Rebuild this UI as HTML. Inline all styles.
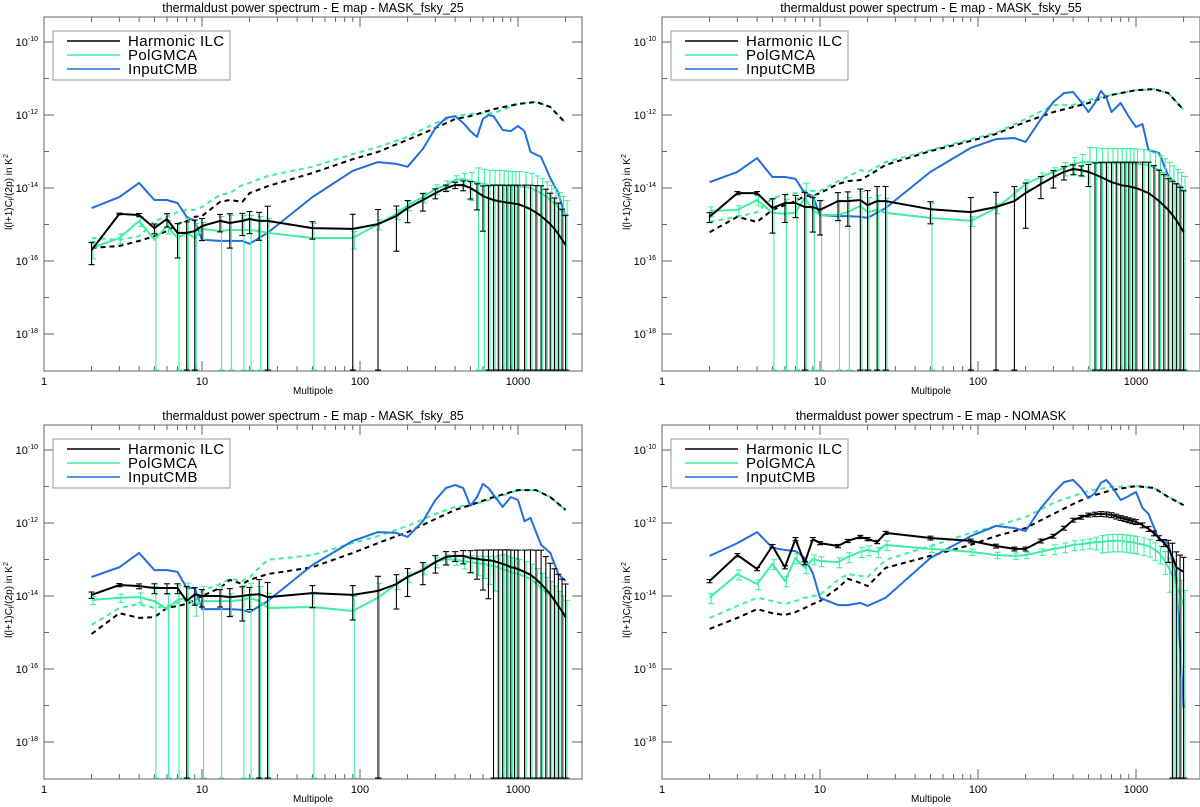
<!DOCTYPE html>
<html><head><meta charset="utf-8"><style>
html,body{margin:0;padding:0;background:#fff;}
svg{display:block;font-family:"Liberation Sans",sans-serif;}
</style></head><body>
<svg id="chart" width="1200" height="807" viewBox="0 0 1200 807" xmlns="http://www.w3.org/2000/svg"></svg>
<script>
// shared multipole grids
const ellBins = [2,3,4,5,6,7,8,9,10,13,15,18,20,23,26,50,90,130,170,200,250,300,350,400,450,500,550,600,650,700,750,800,850,900,950,1000,1100,1200,1300,1400,1500,1600,1700,1800,1900,2000];
const ellDashed = [2,3,4,5,6,7,8,9,10,13,15,18,20,26,50,90,130,200,300,400,500,700,1000,1300,1600,2000];
const ellInput = [2,3,4,5,6,7,8,9,10,13,15,18,20,26,50,90,130,170,200,250,300,350,400,450,500,550,600,650,700,800,900,1000,1100,1200,1400,1600,1800,2000];
const xTickLabels = ["1","10","100","1000"];
const yTickExps = [-10,-12,-14,-16,-18];
const panelTitles = ["thermaldust power spectrum - E map - MASK_fsky_25","thermaldust power spectrum - E map - MASK_fsky_55","thermaldust power spectrum - E map - MASK_fsky_85","thermaldust power spectrum - E map - NOMASK"];

// values are log10(l(l+1)Cl/2pi); errors are log10 of the 1-sigma (linear)
// panel 1 MASK_fsky_25
const ilc1 = [-15.70,-14.71,-14.74,-15.10,-14.85,-15.23,-15.23,-15.18,-15.04,-14.90,-14.96,-14.90,-14.85,-14.90,-14.90,-15.10,-15.12,-14.99,-14.77,-14.55,-14.33,-14.14,-14.00,-13.92,-13.92,-14.00,-14.11,-14.22,-14.28,-14.33,-14.36,-14.38,-14.40,-14.41,-14.43,-14.44,-14.51,-14.58,-14.67,-14.77,-14.88,-14.99,-15.12,-15.26,-15.41,-15.56];
const ilcErr1 = [-15.92,-16.01,-15.74,-15.62,-15.25,-15.33,-15.23,-15.18,-15.26,-15.20,-15.06,-15.12,-15.07,-15.05,-14.72,-15.40,-14.94,-14.81,-14.82,-14.77,-14.63,-14.66,-14.70,-14.62,-14.44,-14.30,-14.28,-14.27,-14.20,-14.14,-14.12,-14.11,-14.10,-14.09,-14.08,-14.08,-14.05,-14.03,-14.02,-14.01,-14.10,-14.21,-14.34,-14.48,-14.65,-14.82];
const gmca1 = [-15.64,-15.37,-14.90,-15.42,-15.04,-15.37,-15.23,-15.37,-15.12,-15.18,-15.15,-15.15,-15.15,-15.18,-15.23,-15.37,-15.37,-14.99,-14.71,-14.47,-14.25,-14.03,-13.92,-13.78,-13.75,-13.81,-13.85,-13.89,-13.91,-13.92,-13.92,-13.92,-13.94,-13.95,-13.95,-13.95,-13.97,-14.00,-14.07,-14.14,-14.23,-14.33,-14.42,-14.52,-14.63,-14.74];
const gmcaErr1 = [-15.94,-15.89,-15.42,-15.24,-15.44,-15.19,-15.05,-15.19,-15.42,-15.00,-14.97,-14.97,-14.97,-15.00,-15.05,-15.19,-15.67,-15.51,-15.23,-14.99,-14.77,-14.55,-14.44,-14.30,-14.15,-13.96,-13.67,-13.71,-13.73,-13.74,-13.74,-13.74,-13.76,-13.77,-13.77,-13.77,-13.79,-13.82,-13.89,-13.96,-14.05,-14.15,-14.24,-14.34,-14.45,-14.56];
const ilcDash1 = [-15.64,-15.59,-15.45,-15.32,-15.18,-14.99,-14.90,-14.79,-14.77,-14.38,-14.33,-14.38,-14.14,-13.95,-13.59,-13.21,-13.01,-12.68,-12.36,-12.11,-12.03,-11.84,-11.70,-11.64,-11.78,-12.22];
const gmcaDash1 = [-15.37,-15.42,-15.32,-14.90,-14.79,-14.66,-14.60,-14.60,-14.52,-14.19,-14.14,-13.92,-13.86,-13.67,-13.42,-13.07,-12.88,-12.60,-12.22,-12.03,-11.97,-11.95,-11.70,-11.64,-11.78,-12.22];
const cmb1 = [-14.55,-14.25,-13.86,-14.33,-14.33,-14.41,-14.79,-14.90,-15.42,-15.45,-15.45,-15.45,-15.53,-15.23,-14.25,-13.53,-13.29,-13.34,-13.42,-12.93,-12.36,-12.08,-12.03,-12.22,-12.44,-12.60,-12.11,-12.00,-12.03,-12.41,-12.44,-12.30,-12.44,-13.01,-13.15,-13.73,-14.14,-14.79];
// panel 2 MASK_fsky_55
const ilc2 = [-14.79,-14.14,-14.14,-14.55,-14.41,-14.41,-14.52,-14.52,-14.60,-14.36,-14.36,-14.33,-14.47,-14.36,-14.36,-14.58,-14.66,-14.52,-14.36,-14.14,-13.89,-13.70,-13.56,-13.48,-13.51,-13.56,-13.63,-13.70,-13.77,-13.84,-13.88,-13.92,-13.94,-13.95,-13.98,-14.00,-14.07,-14.14,-14.25,-14.36,-14.48,-14.60,-14.74,-14.88,-15.04,-15.21];
const ilcErr2 = [-15.31,-15.14,-15.14,-14.65,-14.56,-14.63,-14.34,-14.62,-14.70,-14.51,-14.46,-14.33,-14.29,-14.18,-14.18,-14.80,-14.48,-14.34,-14.18,-14.19,-14.11,-14.00,-13.96,-14.00,-14.03,-13.78,-13.60,-13.51,-13.47,-13.44,-13.42,-13.41,-13.40,-13.40,-13.39,-13.39,-13.37,-13.36,-13.45,-13.58,-13.70,-13.81,-13.87,-13.93,-14.02,-14.11];
const gmca2 = [-14.63,-14.60,-14.33,-14.68,-14.71,-14.68,-14.27,-14.60,-14.74,-14.74,-14.66,-14.49,-14.66,-14.60,-14.68,-14.82,-14.90,-14.55,-14.16,-13.89,-13.70,-13.56,-13.45,-13.34,-13.29,-13.29,-13.30,-13.32,-13.32,-13.32,-13.32,-13.32,-13.32,-13.32,-13.33,-13.34,-13.35,-13.37,-13.44,-13.51,-13.60,-13.70,-13.80,-13.89,-13.98,-14.08];
const gmcaErr2 = [-15.15,-15.12,-14.85,-14.50,-14.53,-14.50,-14.09,-14.42,-14.56,-14.56,-14.48,-14.31,-14.48,-14.42,-14.50,-14.64,-15.42,-15.07,-14.68,-14.41,-14.22,-14.08,-13.85,-13.64,-13.51,-13.11,-13.12,-13.14,-13.14,-13.14,-13.14,-13.14,-13.14,-13.14,-13.15,-13.16,-13.17,-13.19,-13.26,-13.33,-13.42,-13.52,-13.62,-13.71,-13.80,-13.90];
const ilcDash2 = [-15.21,-14.79,-14.93,-14.60,-14.47,-14.36,-14.22,-14.22,-14.14,-13.89,-13.81,-13.78,-13.67,-13.37,-12.99,-12.71,-12.52,-12.19,-11.92,-11.78,-11.67,-11.45,-11.32,-11.29,-11.40,-11.86];
const gmcaDash2 = [-14.93,-14.79,-14.66,-14.27,-14.19,-14.14,-14.08,-14.08,-14.08,-13.81,-13.70,-13.51,-13.56,-13.29,-12.96,-12.66,-12.49,-12.11,-11.73,-11.73,-11.59,-11.45,-11.32,-11.29,-11.40,-11.86];
const cmb2 = [-13.84,-13.56,-13.18,-13.70,-13.70,-13.75,-14.14,-14.22,-14.74,-14.77,-14.77,-14.79,-14.82,-14.55,-13.56,-12.90,-12.66,-12.63,-12.74,-12.11,-11.64,-11.40,-11.37,-11.64,-11.92,-11.67,-11.34,-11.53,-11.92,-11.67,-12.05,-12.33,-12.25,-12.96,-13.04,-13.67,-13.89,-14.00];
// panel 3 MASK_fsky_85
const ilc3 = [-13.97,-13.70,-13.73,-13.78,-13.78,-13.78,-14.14,-13.95,-14.00,-14.00,-14.03,-14.00,-13.97,-13.95,-14.03,-13.92,-13.97,-13.86,-13.67,-13.48,-13.29,-13.07,-12.93,-12.90,-12.90,-12.96,-12.98,-13.01,-13.02,-13.04,-13.08,-13.12,-13.16,-13.21,-13.23,-13.26,-13.34,-13.42,-13.54,-13.67,-13.81,-13.95,-14.11,-14.27,-14.42,-14.58];
const ilcErr3 = [-14.67,-14.70,-14.55,-14.30,-14.30,-14.30,-13.96,-14.25,-14.30,-14.30,-14.18,-14.10,-14.19,-13.77,-13.85,-14.14,-14.07,-13.68,-13.77,-13.63,-13.51,-13.37,-13.33,-13.42,-13.30,-13.18,-13.12,-13.08,-13.06,-13.04,-13.00,-12.97,-12.94,-12.92,-12.91,-12.90,-12.87,-12.84,-12.82,-12.80,-12.98,-13.17,-13.32,-13.47,-13.60,-13.73];
const gmca3 = [-14.11,-14.05,-14.03,-14.14,-14.36,-14.11,-14.05,-14.25,-14.14,-14.14,-14.14,-14.11,-14.05,-14.14,-14.33,-14.30,-14.41,-14.05,-13.67,-13.48,-13.26,-13.07,-12.99,-13.01,-13.04,-13.07,-13.10,-13.12,-13.15,-13.18,-13.22,-13.26,-13.30,-13.34,-13.37,-13.40,-13.46,-13.53,-13.65,-13.78,-13.89,-14.00,-14.13,-14.27,-14.40,-14.52];
const gmcaErr3 = [-14.71,-14.65,-14.55,-13.96,-14.18,-13.93,-13.87,-14.55,-13.96,-13.96,-14.36,-13.93,-13.87,-13.96,-14.15,-14.12,-14.23,-13.87,-14.19,-14.00,-13.78,-13.59,-13.51,-13.53,-13.44,-13.37,-13.36,-13.34,-13.30,-13.28,-13.15,-13.08,-13.12,-13.16,-13.19,-13.22,-13.28,-13.35,-13.47,-13.60,-13.71,-13.82,-13.95,-14.09,-14.22,-14.34];
const ilcDash3 = [-15.04,-14.47,-14.60,-14.58,-14.33,-14.27,-14.22,-14.11,-14.00,-13.78,-13.56,-13.67,-13.56,-13.40,-13.21,-12.82,-12.55,-12.25,-11.89,-11.64,-11.51,-11.29,-11.10,-11.10,-11.29,-11.64];
const gmcaDash3 = [-14.79,-14.33,-14.22,-14.33,-14.27,-14.19,-14.11,-14.00,-13.86,-13.67,-13.53,-13.59,-13.48,-13.01,-12.88,-12.55,-12.36,-12.08,-11.75,-11.56,-11.51,-11.34,-11.10,-11.10,-11.29,-11.64];
const cmb3 = [-13.48,-13.21,-12.82,-13.29,-13.29,-13.34,-13.78,-13.78,-14.36,-14.36,-14.36,-14.38,-14.44,-14.14,-13.15,-12.49,-12.25,-12.27,-12.38,-11.95,-11.37,-11.04,-10.96,-11.04,-11.53,-11.29,-10.93,-11.04,-11.23,-11.56,-11.29,-11.37,-11.95,-11.86,-12.60,-12.82,-13.40,-13.59];
// panel 4 NOMASK
const ilc4 = [-13.59,-12.88,-13.26,-12.63,-13.21,-12.44,-13.10,-12.44,-12.55,-12.63,-12.49,-12.38,-12.44,-12.52,-12.27,-12.41,-12.49,-12.63,-12.71,-12.71,-12.49,-12.36,-12.14,-11.92,-11.84,-11.78,-11.76,-11.75,-11.76,-11.78,-11.82,-11.86,-11.89,-11.92,-11.95,-11.97,-12.06,-12.16,-12.28,-12.41,-12.54,-12.68,-12.92,-13.21,-13.28,-13.34];
const ilcErr4 = [-14.59,-13.88,-14.26,-13.63,-14.21,-13.44,-14.10,-13.44,-13.55,-13.63,-13.49,-13.38,-13.44,-13.52,-13.27,-13.33,-13.41,-13.55,-13.63,-13.63,-13.41,-13.28,-13.06,-12.84,-12.76,-12.70,-12.62,-12.57,-12.58,-12.60,-12.64,-12.68,-12.71,-12.74,-12.77,-12.79,-12.88,-12.98,-13.10,-13.23,-13.20,-12.90,-12.80,-13.00,-13.10,-13.16];
const gmca4 = [-14.05,-13.40,-13.67,-13.12,-13.59,-12.96,-13.23,-12.99,-13.04,-13.07,-12.93,-12.79,-12.74,-12.79,-12.60,-12.71,-12.79,-12.88,-12.90,-12.88,-12.79,-12.71,-12.66,-12.60,-12.58,-12.55,-12.53,-12.52,-12.50,-12.49,-12.49,-12.49,-12.50,-12.52,-12.53,-12.55,-12.59,-12.63,-12.72,-12.82,-12.99,-13.21,-13.43,-13.67,-13.95,-14.25];
const gmcaErr4 = [-14.57,-13.92,-14.19,-13.64,-14.11,-13.48,-13.75,-13.51,-13.56,-13.59,-13.45,-13.31,-13.26,-13.31,-13.12,-13.41,-13.49,-13.58,-13.60,-13.58,-13.49,-13.23,-13.18,-13.12,-13.10,-13.07,-12.95,-12.82,-12.80,-12.79,-12.79,-12.79,-12.80,-12.82,-12.83,-12.85,-12.89,-12.93,-13.02,-13.12,-13.20,-13.31,-13.40,-13.49,-13.80,-14.07];
const ilcDash4 = [-14.90,-14.60,-14.36,-14.47,-14.52,-14.44,-14.33,-14.22,-14.14,-13.78,-13.53,-13.64,-13.73,-13.23,-12.90,-12.60,-12.36,-12.14,-11.75,-11.48,-11.29,-11.10,-10.99,-11.04,-11.29,-11.51];
const gmcaDash4 = [-14.60,-14.27,-14.05,-14.14,-14.22,-14.14,-14.05,-14.00,-13.97,-13.56,-13.40,-13.45,-13.48,-13.01,-12.63,-12.27,-12.08,-11.84,-11.45,-11.26,-11.12,-11.01,-10.99,-11.04,-11.29,-11.51];
const cmb4 = [-12.90,-12.55,-12.25,-12.68,-12.74,-12.77,-12.96,-13.37,-14.05,-14.25,-14.25,-14.19,-14.27,-14.05,-12.96,-12.36,-12.08,-12.14,-12.22,-11.59,-11.18,-10.88,-10.82,-11.04,-11.32,-11.18,-10.90,-10.82,-10.99,-11.37,-11.26,-11.15,-11.59,-11.75,-12.47,-12.55,-13.51,-17.07];

const panelData = [
 {ilc:ilc1,ilcErr:ilcErr1,gmca:gmca1,gmcaErr:gmcaErr1,ilcDash:ilcDash1,gmcaDash:gmcaDash1,cmb:cmb1},
 {ilc:ilc2,ilcErr:ilcErr2,gmca:gmca2,gmcaErr:gmcaErr2,ilcDash:ilcDash2,gmcaDash:gmcaDash2,cmb:cmb2},
 {ilc:ilc3,ilcErr:ilcErr3,gmca:gmca3,gmcaErr:gmcaErr3,ilcDash:ilcDash3,gmcaDash:gmcaDash3,cmb:cmb3},
 {ilc:ilc4,ilcErr:ilcErr4,gmca:gmca4,gmcaErr:gmcaErr4,ilcDash:ilcDash4,gmcaDash:gmcaDash4,cmb:cmb4}
];

const NS = "http://www.w3.org/2000/svg";
const svg = document.getElementById("chart");
const GREEN = "#3cf0a0", BLUE = "#1f6fe0", AX = "#666";
const W = 538, H = 354, DEC = 158, YDEC = 36.5, LOGMIN = -19;
const origins = [[44,17],[662,17],[44,425],[662,425]];

function mk(tag, attrs, parent){
  const e = document.createElementNS(NS, tag);
  for (const k in attrs) e.setAttribute(k, attrs[k]);
  (parent||svg).appendChild(e);
  return e;
}

origins.forEach(function(o, p){
  const x0 = o[0], y0 = o[1], d = panelData[p];
  const xs = l => x0 + Math.log10(l) * DEC;
  const ys = L => y0 + 25 + (-10 - L) * YDEC;
  const yBottom = y0 + H;
  const g = mk("g", {});
  
  

  const t = mk("text", {x: x0 + W/2, y: y0 - 5, "text-anchor":"middle", "font-size":"12.5"}, g);
  
  
  t.textContent = panelTitles[p];

  const cp = mk("clipPath", {id:"clip"+p}, g);
  mk("rect", {x:x0, y:y0, width:W, height:H}, cp);

  const box = mk("rect", {x:x0, y:y0, width:W, height:H, fill:"none", stroke:AX, "stroke-width":1}, g);
  
  

  const xt = mk("g", {stroke:AX, "stroke-width":1}, g);
  
  
  for (let dec = 0; dec < 4; dec++){
    for (let m = 1; m < 10; m++){
      const l = m * Math.pow(10, dec);
      const px = xs(l);
      if (px > x0 + W) break;
      const len = m === 1 ? 10 : 5;
      mk("line", {x1:px, y1:yBottom, x2:px, y2:yBottom-len}, xt);
      mk("line", {x1:px, y1:y0, x2:px, y2:y0+len}, xt);
    }
  }
  xTickLabels.forEach(function(lab, i){
    const tx = mk("text", {x: xs(Math.pow(10,i)), y: yBottom + 14, "text-anchor":"middle", "font-size":"11"}, g);
    
    
    tx.textContent = lab;
  });
  const xl = mk("text", {x: x0 + W/2, y: yBottom + 23, "text-anchor":"middle", "font-size":"10"}, g);
  
  
  xl.textContent = "Multipole";

  const yt = mk("g", {stroke:AX, "stroke-width":1}, g);
  
  
  for (let e = -10; e >= LOGMIN + 1; e--){
    const py = ys(e);
    const len = (e % 2 === 0) ? 10 : 5;
    mk("line", {x1:x0, y1:py, x2:x0+len, y2:py}, yt);
    mk("line", {x1:x0+W, y1:py, x2:x0+W-len, y2:py}, yt);
  }
  yTickExps.forEach(function(e){
    const ty = mk("text", {x: x0 - 6, y: ys(e) + 4, "text-anchor":"end", "font-size":"11"}, g);
    
    
    ty.textContent = "10";
    const sp = mk("tspan", {"font-size":"7", dy:"-5"}, ty);
    sp.textContent = String(e);
  });
  const yl = mk("text", {x:0, y:0, transform:"translate(" + (x0-32) + "," + (y0 + 175) + ") rotate(-90)", "text-anchor":"middle", "font-size":"10"}, g);
  
  
  yl.textContent = "l(l+1)C";
  const sub = mk("tspan", {"font-size":"7", dy:"2"}, yl); sub.textContent = "l";
  const rest = mk("tspan", {dy:"-2"}, yl); rest.textContent = "/(2p) in K";
  const sup = mk("tspan", {"font-size":"7", dy:"-4"}, yl); sup.textContent = "2";

  const dg = mk("g", {"clip-path":"url(#clip"+p+")", fill:"none"}, g);
  
  
  const line = (ells, vals, color, dash, name, w) => {
    const pts = ells.map((l,i) => xs(l).toFixed(1) + "," + ys(vals[i]).toFixed(1)).join(" ");
    const pl = mk("polyline", {points:pts, stroke:color, "stroke-width":w||2, "stroke-linejoin":"round"}, dg);
    if (dash) pl.setAttribute("stroke-dasharray", "5,4");
    
    
  };
  const bars = (vals, errs, color, off, name) => {
    const bg = mk("g", {stroke:color, "stroke-width":1.1}, dg);
    
    
    ellBins.forEach(function(l, i){
      const v = Math.pow(10, vals[i]), s = Math.pow(10, errs[i]);
      const up = ys(Math.log10(v + s));
      const lo = (v - s) > 0 ? ys(Math.log10(v - s)) : yBottom;
      const px = xs(l) + off;
      mk("line", {x1:px, y1:up, x2:px, y2:lo}, bg);
      mk("line", {x1:px-3, y1:up, x2:px+3, y2:up}, bg);
      mk("line", {x1:px-3, y1:Math.min(lo, yBottom-1), x2:px+3, y2:Math.min(lo, yBottom-1)}, bg);
    });
  };
  line(ellDashed, d.gmcaDash, GREEN, true, "polgmca-dashed-line");
  line(ellDashed, d.ilcDash, "#000", true, "harmonic-ilc-dashed-line");
  line(ellInput, d.cmb, BLUE, false, "inputcmb-line");
  bars(d.gmca, d.gmcaErr, GREEN, 1.5, "polgmca-error-bars");
  line(ellBins, d.gmca, GREEN, false, "polgmca-line");
  bars(d.ilc, d.ilcErr, "#000", 0, "harmonic-ilc-error-bars");
  line(ellBins, d.ilc, "#000", false, "harmonic-ilc-line");

  const lg = mk("g", {}, g);
  
  
  mk("rect", {x:x0+9, y:y0+14, width:177, height:49, fill:"#fff", stroke:"#999", "stroke-width":1}, lg);
  const entries = [["Harmonic  ILC","#000"],["PolGMCA",GREEN],["InputCMB",BLUE]];
  entries.forEach(function(en, i){
    const ly = y0 + 24 + i*14;
    const eg = mk("g", {}, lg);
    
    
    mk("line", {x1:x0+23, y1:ly, x2:x0+76, y2:ly, stroke:en[1], "stroke-width":1.5}, eg);
    const lt = mk("text", {x:x0+84, y:ly+5, "font-size":"15", "letter-spacing":"0.4", "xml:space":"preserve"}, eg);
    lt.textContent = en[0];
  });
});
</script>
</body></html>
